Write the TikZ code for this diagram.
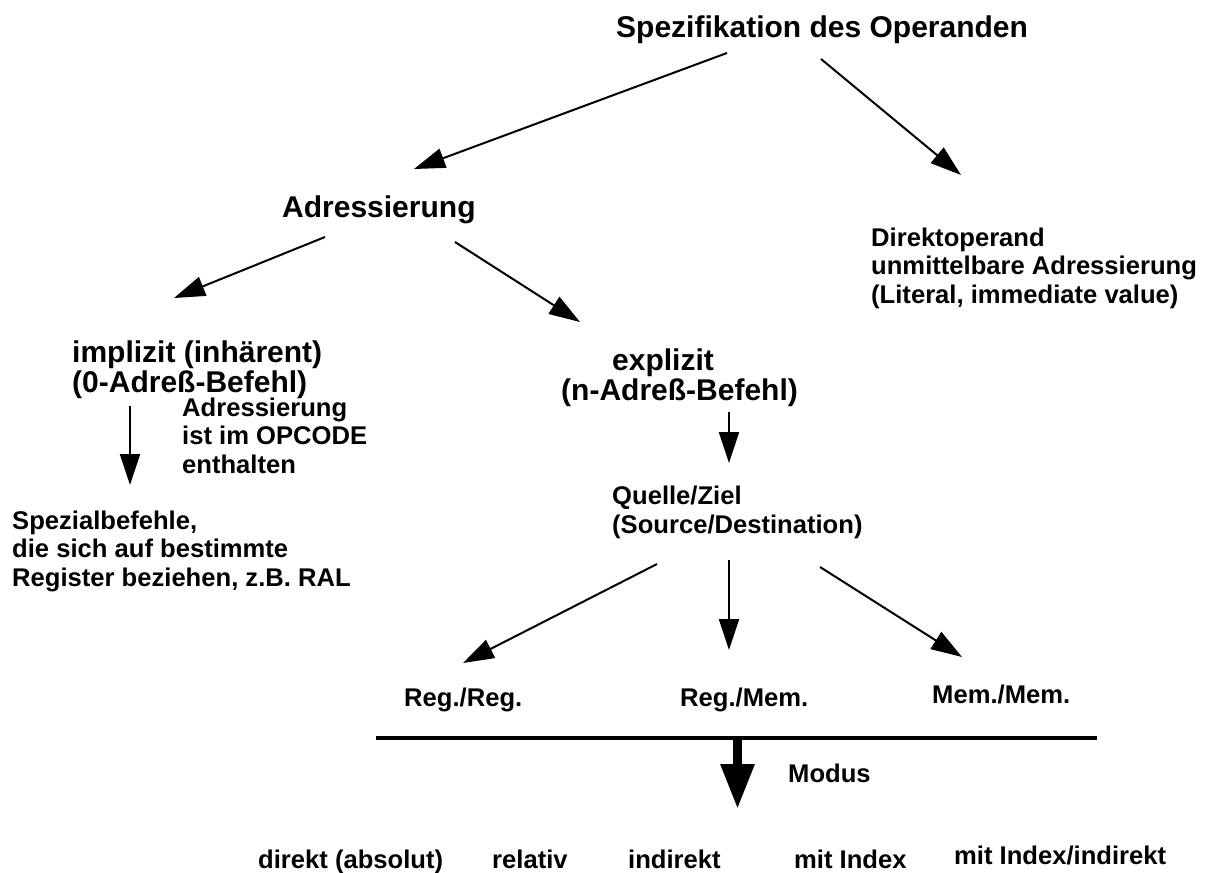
\documentclass[tikz,border=0pt]{standalone}
\usepackage{fontspec}
\setmainfont{Liberation Sans}
\usetikzlibrary{arrows.meta}
\begin{document}
\begin{tikzpicture}[x=1pt,y=-1pt,
  big/.style={font=\fontsize{30}{30}\selectfont\bfseries, inner sep=0pt, anchor=base west, align=left},
  small/.style={font=\fontsize{25.6}{28.5}\selectfont\bfseries, inner sep=0pt, anchor=base west, align=left},
  arr/.style={line width=2pt, -{Triangle[length=31pt,width=20pt]}},
  thickarr/.style={line width=9pt, -{Triangle[length=45pt,width=32pt]}},
  bar/.style={line width=4pt}]
\useasboundingbox (0,0) rectangle (1206,872);

% texts (multi-line nodes are placed by the baseline of their last line)
\node[big] (spez) at (616,38) {Spezifikation des Operanden};
\node[big] (adr) at (282,217) {Adressierung};
\node[small] (direkt) at (871,303) {Direktoperand\\unmittelbare Adressierung\\(Literal, immediate value)};
\node[big] (impl) at (72,392) {implizit (inhärent)\\(0-Adreß-Befehl)};
\node[small] (opc) at (182,473) {Adressierung\\ist im OPCODE\\enthalten};
\node[small] (spezial) at (12,586) {Spezialbefehle,\\die sich auf bestimmte\\Register beziehen, z.B. RAL};
\node[big] (expl) at (561,400) {\hspace*{51pt}explizit\\(n-Adreß-Befehl)};
\node[small] (quelle) at (612,533) {Quelle/Ziel\\(Source/Destination)};
\node[small] (regreg) at (404,706) {Reg./Reg.};
\node[small] (regmem) at (680,706) {Reg./Mem.};
\node[small] (memmem) at (932,703) {Mem./Mem.};
\node[small] (modus) at (788,782) {Modus};
\node[small] (m1) at (258,868) {direkt (absolut)};
\node[small] (m2) at (492,868) {relativ};
\node[small] (m3) at (628,868) {indirekt};
\node[small] (m4) at (794,868) {mit Index};
\node[small] (m5) at (954,864) {mit Index/indirekt};

% connector end points
\coordinate (spezL) at (727,53);
\coordinate (spezR) at (821,59);
\coordinate (adrT) at (414,169);
\coordinate (direktT) at (961,175);
\coordinate (adrL) at (325,237);
\coordinate (adrR) at (455,242);
\coordinate (implT) at (174,298);
\coordinate (explT) at (580,322);
\coordinate (implB) at (130,406);
\coordinate (spezialT) at (130,485);
\coordinate (explB) at (729,412);
\coordinate (quelleT) at (729,463);
\coordinate (quelleL) at (657,564);
\coordinate (quelleM) at (729,560);
\coordinate (quelleR) at (820,567);
\coordinate (regregT) at (463,663);
\coordinate (regmemT) at (729,650);
\coordinate (memmemT) at (962,657);
\coordinate (barL) at (376,738);
\coordinate (barR) at (1097,738);
\coordinate (barM) at (737.5,738);
\coordinate (modusT) at (737.5,809);

% connectors
\draw[arr] (spezL) -- (adrT);
\draw[arr] (spezR) -- (direktT);
\draw[arr] (adrL) -- (implT);
\draw[arr] (adrR) -- (explT);
\draw[arr] (implB) -- (spezialT);
\draw[arr] (explB) -- (quelleT);
\draw[arr] (quelleL) -- (regregT);
\draw[arr] (quelleM) -- (regmemT);
\draw[arr] (quelleR) -- (memmemT);
\draw[bar] (barL) -- (barR);
\draw[thickarr] (barM) -- (modusT);
\end{tikzpicture}
\end{document}
